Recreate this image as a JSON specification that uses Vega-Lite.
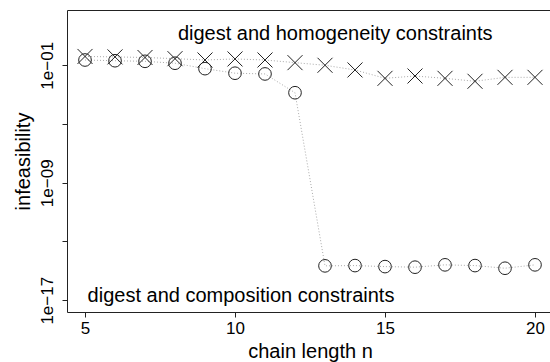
{
  "$schema": "https://vega.github.io/schema/vega-lite/v6.json",
  "width": 483,
  "height": 302,
  "autosize": {"type": "none"},
  "padding": {"left": 67, "top": 10, "right": 0, "bottom": 50},
  "background": "white",
  "config": {
    "view": {"stroke": null},
    "font": "Liberation Sans",
    "axis": {
      "grid": false,
      "domainColor": "#222",
      "tickColor": "#222",
      "labelColor": "#000",
      "titleColor": "#000",
      "labelFont": "Liberation Sans",
      "titleFont": "Liberation Sans",
      "titleFontWeight": "normal",
      "tickSize": 5,
      "domainWidth": 1,
      "tickWidth": 1
    }
  },
  "datasets": {
    "points": [
      {"n": 5, "infeasibility": 0.398, "constraints": "homogeneity"},
      {"n": 6, "infeasibility": 0.372, "constraints": "homogeneity"},
      {"n": 7, "infeasibility": 0.339, "constraints": "homogeneity"},
      {"n": 8, "infeasibility": 0.282, "constraints": "homogeneity"},
      {"n": 9, "infeasibility": 0.229, "constraints": "homogeneity"},
      {"n": 10, "infeasibility": 0.269, "constraints": "homogeneity"},
      {"n": 11, "infeasibility": 0.229, "constraints": "homogeneity"},
      {"n": 12, "infeasibility": 0.151, "constraints": "homogeneity"},
      {"n": 13, "infeasibility": 0.1, "constraints": "homogeneity"},
      {"n": 14, "infeasibility": 0.0479, "constraints": "homogeneity"},
      {"n": 15, "infeasibility": 0.0129, "constraints": "homogeneity"},
      {"n": 16, "infeasibility": 0.0186, "constraints": "homogeneity"},
      {"n": 17, "infeasibility": 0.0129, "constraints": "homogeneity"},
      {"n": 18, "infeasibility": 0.00813, "constraints": "homogeneity"},
      {"n": 19, "infeasibility": 0.0151, "constraints": "homogeneity"},
      {"n": 20, "infeasibility": 0.0151, "constraints": "homogeneity"},
      {"n": 5, "infeasibility": 0.229, "constraints": "composition"},
      {"n": 6, "infeasibility": 0.204, "constraints": "composition"},
      {"n": 7, "infeasibility": 0.186, "constraints": "composition"},
      {"n": 8, "infeasibility": 0.138, "constraints": "composition"},
      {"n": 9, "infeasibility": 0.0589, "constraints": "composition"},
      {"n": 10, "infeasibility": 0.0288, "constraints": "composition"},
      {"n": 11, "infeasibility": 0.0257, "constraints": "composition"},
      {"n": 12, "infeasibility": 0.00135, "constraints": "composition"},
      {"n": 13, "infeasibility": 2.19e-15, "constraints": "composition"},
      {"n": 14, "infeasibility": 2.29e-15, "constraints": "composition"},
      {"n": 15, "infeasibility": 1.95e-15, "constraints": "composition"},
      {"n": 16, "infeasibility": 1.78e-15, "constraints": "composition"},
      {"n": 17, "infeasibility": 2.57e-15, "constraints": "composition"},
      {"n": 18, "infeasibility": 2.29e-15, "constraints": "composition"},
      {"n": 19, "infeasibility": 1.51e-15, "constraints": "composition"},
      {"n": 20, "infeasibility": 2.57e-15, "constraints": "composition"}
    ],
    "notes": [
      {"n": 13.34, "infeasibility": 5.27, "label": "digest and homogeneity constraints"},
      {"n": 10.2, "infeasibility": 8.0e-18, "label": "digest and composition constraints"}
    ]
  },
  "layer": [
    {
      "data": {"name": "points"},
      "mark": {"type": "line", "color": "#aaaaaa", "strokeDash": [1, 2], "strokeWidth": 1},
      "encoding": {
        "x": {
          "field": "n", "type": "quantitative",
          "scale": {"domain": [4.4, 20.5], "nice": false, "zero": false},
          "axis": {
            "orient": "bottom",
            "values": [5, 10, 15, 20],
            "labelFontSize": 17,
            "labelBaseline": "alphabetic",
            "labelPadding": 16,
            "labelFlush": false,
            "title": "chain length n",
            "titleFontSize": 20,
            "titleBaseline": "alphabetic",
            "titleY": 45,
            "titleX": 243
          }
        },
        "y": {
          "field": "infeasibility", "type": "quantitative",
          "scale": {"type": "log", "domain": [1.58e-18, 580.8], "nice": false},
          "axis": {
            "values": [1e-17, 1e-13, 1e-9, 1e-5, 0.1],
            "labelExpr": "datum.value > 0.05 ? '1e−01' : (datum.value > 1e-10 && datum.value < 1e-8) ? '1e−09' : datum.value < 1e-16 ? '1e−17' : ''",
            "labelAngle": -90,
            "labelAlign": "center",
            "labelBaseline": "alphabetic",
            "labelPadding": 10,
            "labelFontSize": 17,
            "labelFlush": false,
            "labelOverlap": false,
            "title": "infeasibility",
            "titleFontSize": 20,
            "titleAngle": -90,
            "titleBaseline": "alphabetic",
            "titleAlign": "center",
            "titleX": -38,
            "titleY": 151
          }
        },
        "detail": {"field": "constraints"}
      }
    },
    {
      "data": {"name": "points"},
      "mark": {"type": "point", "filled": false, "strokeWidth": 1, "opacity": 1, "color": "#222"},
      "encoding": {
        "x": {"field": "n", "type": "quantitative", "axis": null},
        "y": {"field": "infeasibility", "type": "quantitative", "axis": null},
        "shape": {
          "field": "constraints",
          "scale": {"domain": ["homogeneity", "composition"], "range": ["M-1,-1L1,1M-1,1L1,-1", "circle"]},
          "legend": null
        },
        "size": {
          "field": "constraints",
          "scale": {"domain": ["homogeneity", "composition"], "range": [225, 160]},
          "legend": null
        }
      }
    },
    {
      "data": {"name": "notes"},
      "mark": {"type": "text", "fontSize": 20, "font": "Liberation Sans", "align": "center", "baseline": "alphabetic", "color": "#000"},
      "encoding": {
        "x": {"field": "n", "type": "quantitative", "axis": null},
        "y": {"field": "infeasibility", "type": "quantitative", "axis": null},
        "text": {"field": "label"}
      }
    },
    {
      "data": {"name": "points"},
      "mark": {"type": "point", "opacity": 0},
      "encoding": {
        "x": {
          "field": "n", "type": "quantitative",
          "axis": {"orient": "top", "labels": false, "ticks": false, "domain": true, "title": null}
        },
        "y": {"field": "infeasibility", "type": "quantitative", "axis": null}
      }
    }
  ],
  "resolve": {"axis": {"x": "independent", "y": "independent"}}
}
